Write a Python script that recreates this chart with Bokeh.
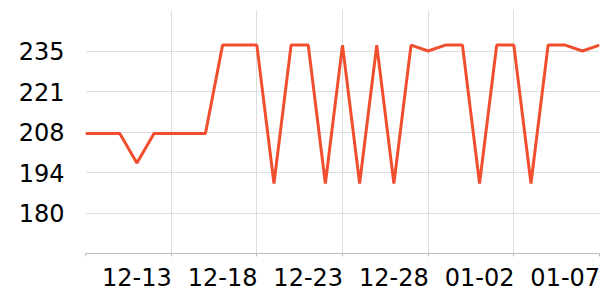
from bokeh.plotting import figure
from bokeh.models import Range1d, FixedTicker, PrintfTickFormatter
from bokeh.embed import file_html
from bokeh.resources import INLINE

dates = ["12-08", "12-09", "12-10", "12-11", "12-12", "12-13", "12-14", "12-15",
         "12-16", "12-17", "12-18", "12-19", "12-20", "12-21", "12-22", "12-23",
         "12-24", "12-25", "12-26", "12-27", "12-28", "12-29", "12-30", "12-31",
         "01-01", "01-02", "01-03", "01-04", "01-05", "01-06", "01-07"]
values = [207, 207, 207, 197, 207, 207, 207, 207,
          237, 237, 237, 190, 237, 237, 190, 237,
          190, 237, 190, 237, 235, 237, 237, 190,
          237, 237, 190, 237, 237, 235, 237]
x_tick_idx = [0, 5, 10, 15, 20, 25, 30]
x_label_idx = [5, 10, 15, 20, 25, 30]
y_ticks = [180, 193.75, 207.5, 221.25, 235]
y_min, y_max = 166.25, 248.75

xs = list(range(len(dates)))

p = figure(width=600, height=300, output_backend="svg", toolbar_location=None,
           x_range=Range1d(0, len(dates) - 1), y_range=Range1d(y_min, y_max),
           min_border_left=85, min_border_right=1, min_border_top=10, min_border_bottom=47)
p.outline_line_color = None
p.background_fill_color = "white"
p.border_fill_color = "white"

p.line(xs, values, line_color="#F04E2F", line_width=3)

# x axis: labels sit left of their tick (right-aligned look); tick marks drawn as minor ticks
shift = 2
p.xaxis.ticker = FixedTicker(ticks=[i - shift for i in x_label_idx], minor_ticks=x_tick_idx)
p.xaxis.major_label_overrides = {i - shift: dates[i] for i in x_label_idx}
p.xaxis.axis_line_color = "#BBBBBB"
p.xaxis.major_tick_line_color = None
p.xaxis.major_tick_out = 0
p.xaxis.major_tick_in = 0
p.xaxis.minor_tick_line_color = "#BBBBBB"
p.xaxis.minor_tick_out = 3
p.xaxis.minor_tick_in = 0
p.xaxis.major_label_text_font = "DejaVu Sans"
p.xaxis.major_label_text_font_size = "24px"
p.xaxis.major_label_text_color = "black"
p.xaxis.major_label_standoff = 11

# y axis
p.yaxis.ticker = FixedTicker(ticks=y_ticks)
p.yaxis.formatter = PrintfTickFormatter(format="%.0f")
p.yaxis.axis_line_color = None
p.yaxis.major_tick_line_color = None
p.yaxis.minor_tick_line_color = None
p.yaxis.major_label_text_font = "DejaVu Sans"
p.yaxis.major_label_text_font_size = "24px"
p.yaxis.major_label_text_color = "black"
p.yaxis.major_label_standoff = 15

p.xgrid.ticker = FixedTicker(ticks=x_tick_idx)
p.xgrid.grid_line_color = "#DDDDDD"
p.ygrid.grid_line_color = "#DDDDDD"

open("out.html", "w").write(file_html(p, INLINE))
